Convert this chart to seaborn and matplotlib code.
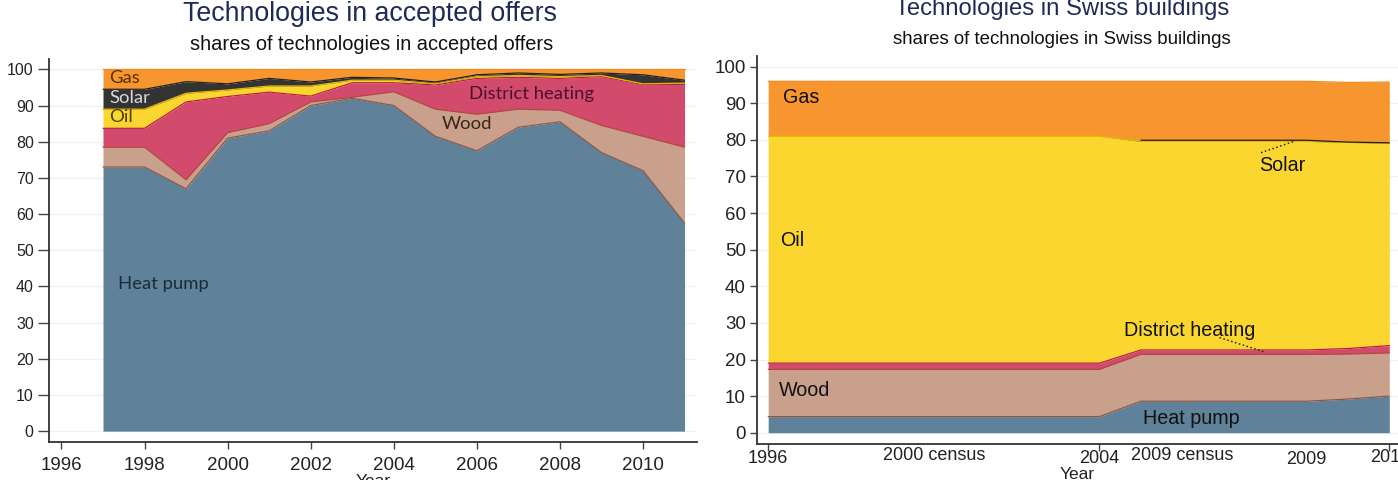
import numpy as np
import pandas as pd
import matplotlib
matplotlib.use("Agg")
import matplotlib.pyplot as plt
import seaborn as sns

# Left panel: shares of technologies in accepted offers (%)
offer_years = [1997, 1998, 1999, 2000, 2001, 2002, 2003, 2004, 2005, 2006, 2007, 2008, 2009, 2010, 2011]
offer_heat_pump = [73, 73, 67, 81, 83, 90, 92, 90, 81.5, 77.5, 84, 85.5, 77, 72, 57.5]
offer_wood = [5.5, 5.5, 2.5, 1.5, 2, 1, 0.3, 3.8, 7.5, 10.1, 5, 3.2, 7.5, 9.5, 21]
offer_district = [5.2, 5.2, 21.5, 10, 8.7, 1.6, 4, 2.5, 6.7, 9.9, 8.8, 8.8, 13.5, 14.3, 17.3]
offer_oil = [5.3, 5.3, 2.4, 1.8, 1.7, 2.8, 0.7, 0.7, 0.3, 0.5, 0.5, 0.5, 0.3, 0.2, 0.4]
offer_solar = [5.5, 5.5, 3.2, 1.7, 2.1, 1.1, 0.8, 0.6, 0.5, 0.5, 0.7, 0.6, 0.7, 2.5, 0.8]
offer_gas = [5.5, 5.5, 3.4, 4, 2.5, 3.5, 2.2, 2.4, 3.5, 1.5, 1, 1.4, 1, 1.5, 3]

# Right panel: shares of technologies in Swiss buildings (%)
bldg_years = [1996, 2004, 2005, 2009, 2010, 2011]
bldg_heat_pump = [4.4, 4.4, 8.6, 8.6, 9.2, 10]
bldg_wood = [12.9, 12.9, 12.8, 12.8, 12.3, 11.8]
bldg_district = [1.7, 1.7, 1.2, 1.2, 1.5, 2.0]
bldg_oil = [62, 62, 57, 57, 56.3, 55.3]
bldg_solar = [0, 0, 0.3, 0.3, 0.1, 0.1]
bldg_gas = [15, 15, 16.1, 16.1, 16.3, 16.6]

techs = ["Heat pump", "Wood", "District heating", "Oil", "Solar", "Gas"]
fill_colors = ["#60819a", "#c9a08c", "#d24b6c", "#fbd62e", "#333333", "#f7962e"]
edge_colors = ["#8a5a48", "#b04a40", "#b81e4a", "#e8b800", "#222222", "#f08a20"]

left_ticks = [1996, 1998, 2000, 2002, 2004, 2006, 2008, 2010]
right_ticks = [1996, 2000, 2004, 2006, 2009, 2011]
right_tick_labels = ["1996", "2000 census", "2004", "2009 census", "2009", "2011"]

sns.set_theme(style="white")
plt.rcParams["font.family"] = ["Liberation Sans", "DejaVu Sans"]

fig = plt.figure(figsize=(13.98, 4.8), dpi=100)
W, H = 1398, 480
ax1 = fig.add_axes([49 / W, 38 / H, 648 / W, 383.5 / H])
ax2 = fig.add_axes([757 / W, 36.3 / H, 641 / W, 388 / H])


def draw_stack(ax, years, series):
    df = pd.DataFrame(dict(zip(techs, series)), index=years)
    cum = df.cumsum(axis=1)
    ax.stackplot(df.index, df.T.values, colors=fill_colors, linewidth=0, zorder=2)
    for tech, ec in zip(techs, edge_colors):
        edge = cum[tech].where(df[tech] > 0)
        sns.lineplot(x=df.index, y=edge, ax=ax, color=ec, lw=0.9, zorder=3)


draw_stack(ax1, offer_years, [offer_heat_pump, offer_wood, offer_district,
                              offer_oil, offer_solar, offer_gas])
draw_stack(ax2, bldg_years, [bldg_heat_pump, bldg_wood, bldg_district,
                             bldg_oil, bldg_solar, bldg_gas])

for ax in (ax1, ax2):
    ax.set_ylim(-3, 103)
    ax.set_yticks(range(0, 101, 10))
    ax.yaxis.grid(True, color="#eef1f4", lw=1)
    ax.set_axisbelow(True)
    ax.set_xlabel("")
    ax.set_ylabel("")
    sns.despine(ax=ax)
    for s in ("left", "bottom"):
        ax.spines[s].set_color("#333333")
        ax.spines[s].set_linewidth(1.3)
    ax.tick_params(axis="both", which="major", width=1, color="#444444",
                   direction="out", left=True, bottom=True, colors="#222222")

ax1.set_xlim(1995.7, 2011.3)
ax1.set_xticks(left_ticks)
ax1.tick_params(axis="x", labelsize=13.5, pad=6, length=5)
ax1.tick_params(axis="y", labelsize=11.5, pad=3, length=8)

ax2.set_xlim(1995.73, 2011.21)
ax2.set_xticks(right_ticks)
ax2.set_xticklabels(right_tick_labels)
ax2.tick_params(axis="x", labelsize=13, length=5)
ax2.tick_params(axis="y", labelsize=13.5, pad=3, length=5)
# census labels sit a little higher and carry no tick mark
right_pads = [-0.7, -2.8, -0.3, -2.8, 0.4, -1.4]
for t, lab, p in zip(ax2.xaxis.get_major_ticks(), right_tick_labels, right_pads):
    t.set_pad(p)
    if lab not in ("1996", "2004", "2011"):
        t.tick1line.set_visible(False)

# labels inside the left chart
lfont = dict(family=["Lato", "DejaVu Sans"], fontsize=13.3)
ax1.text(1997.15, 97.6, "Gas", color="#5a3000", va="center", **lfont)
ax1.text(1997.15, 92.0, "Solar", color="#d8d8d8", va="center", **lfont)
ax1.text(1997.15, 86.7, "Oil", color="#4a4000", va="center", **lfont)
ax1.text(2005.8, 93.2, "District heating", color="#4a1030", va="center", **lfont)
ax1.text(2005.15, 84.8, "Wood", color="#3a2418", va="center", **lfont)
ax1.text(1997.35, 40.6, "Heat pump", color="#1a2a38", va="center", **lfont)

# labels inside the right chart
rfont = dict(fontsize=14.2, color="#111111", va="center")
ax2.text(1996.35, 91.5, "Gas", **rfont)
ax2.text(1996.3, 52.5, "Oil", **rfont)
ax2.text(1996.25, 11.5, "Wood", **rfont)
ax2.text(2005.05, 4.0, "Heat pump", **rfont)
ax2.text(2004.6, 28.0, "District heating", **rfont)
ax2.text(2007.85, 73.0, "Solar", **rfont)
ax2.plot([2006.9, 2008.0], [26.0, 22.0], ls=":", color="#222222", lw=1.1, zorder=4)
ax2.plot([2007.9, 2008.7], [76.5, 79.6], ls=":", color="#222222", lw=1.1, zorder=4)

# titles
title_color = "#1e2b55"
fig.text(370 / W, 1 - 14 / H, "Technologies in accepted offers", ha="center", va="center",
         fontsize=19.3, color=title_color)
fig.text(372 / W, 1 - 45 / H, "shares of technologies in accepted offers", ha="center",
         va="center", fontsize=14.4, color="#111111")
fig.text(1062 / W, 1 - 9 / H, "Technologies in Swiss buildings", ha="center", va="center",
         fontsize=17.2, color=title_color)
fig.text(1062 / W, 1 - 40 / H, "shares of technologies in Swiss buildings", ha="center",
         va="center", fontsize=13.4, color="#111111")

fig.text(373 / W, 1 - 474 / H, "Year", ha="center", va="top", fontsize=12.5, color="#222222")
fig.text(1077 / W, 1 - 467 / H, "Year", ha="center", va="top", fontsize=12.5, color="#222222")

fig.savefig("out.png", dpi=100)
